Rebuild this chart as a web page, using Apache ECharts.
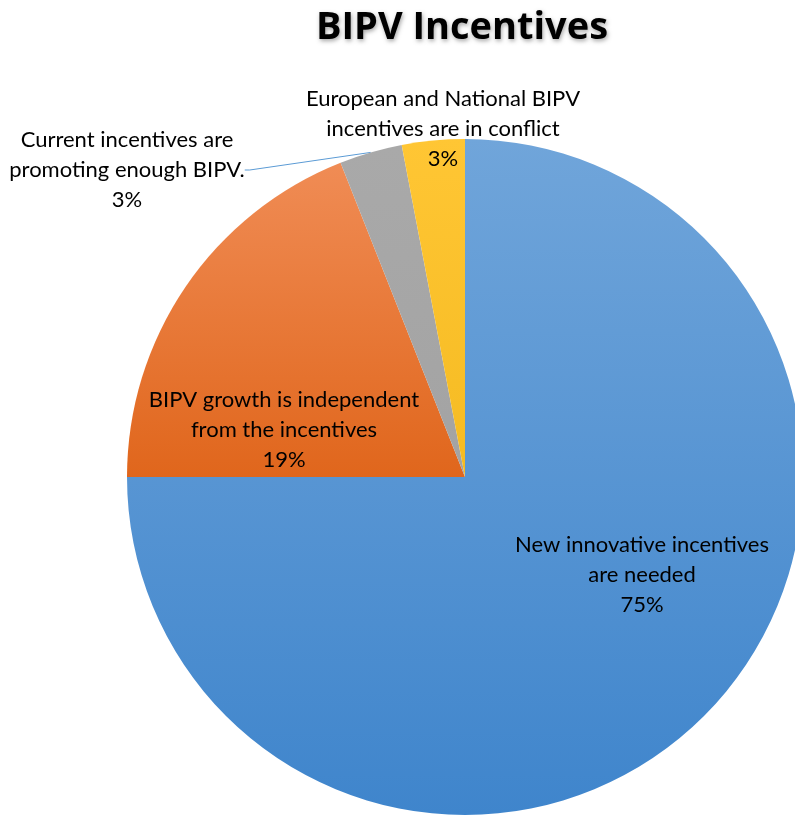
<!DOCTYPE html>
<html>
<head>
<meta charset="utf-8">
<script src="https://cdn.jsdelivr.net/npm/echarts@6/dist/echarts.min.js"></script>
<style>
  html, body { margin: 0; padding: 0; background: #fff; }
  #chart { width: 795px; height: 817px; }
</style>
</head>
<body>
<div id="chart"></div>
<script>
// answers, clockwise from 12 o'clock
const categories = [
  'New innovative incentives\nare needed',
  'BIPV growth is independent\nfrom the incentives',
  'Current incentives are\npromoting enough BIPV.',
  'European and National BIPV\nincentives are in conflict'
];
const shares = [75, 19, 3, 3];

// slice fills (top colour, bottom colour)
const sliceColors = [
  ['#70a5da', '#3f85cc'],
  ['#f08c55', '#e0661c'],
  ['#a9a9a9', '#a3a3a3'],
  ['#ffc634', '#f5bb22']
];
// where each label block sits (center)
const labelSpots = [[642, 575], [284, 430], [127, 170], [443, 129]];

let myChart = echarts.init(document.getElementById('chart'));

myChart.setOption({
  animation: false,
  title: {
    text: 'BIPV Incentives',
    left: 457,
    top: 4,
    textAlign: 'center',
    textStyle: {
      fontFamily: 'Open Sans',
      fontWeight: 'bold',
      fontSize: 38,
      color: '#000',
      textShadowColor: 'rgba(0,0,0,0.35)',
      textShadowBlur: 4,
      textShadowOffsetX: 1,
      textShadowOffsetY: 2
    }
  },
  series: [{
    type: 'pie',
    center: [465, 477],
    radius: 338,
    startAngle: 90,
    clockwise: true,
    avoidLabelOverlap: false,
    itemStyle: { borderWidth: 0 },
    label: {
      show: true,
      position: 'inside',
      fontFamily: 'Lato',
      fontSize: 22,
      lineHeight: 30,
      color: '#000',
      formatter: p => p.name + '\n' + p.value + '%'
    },
    labelLine: { show: false },
    labelLayout: p => ({
      x: labelSpots[p.dataIndex][0],
      y: labelSpots[p.dataIndex][1],
      align: 'center',
      verticalAlign: 'middle'
    }),
    data: categories.map((c, i) => ({
      name: c,
      value: shares[i],
      itemStyle: {
        color: {
          type: 'linear', x: 0, y: 0, x2: 0, y2: 1,
          colorStops: [
            { offset: 0, color: sliceColors[i][0] },
            { offset: 1, color: sliceColors[i][1] }
          ]
        }
      },
      label: i === 2 ? { position: 'outside' } : {},
      labelLine: i === 2 ? {
        show: true, length: 10, length2: 5,
        lineStyle: { color: '#5b9bd5', width: 1 }
      } : { show: false }
    }))
  }]
});
</script>
</body>
</html>
